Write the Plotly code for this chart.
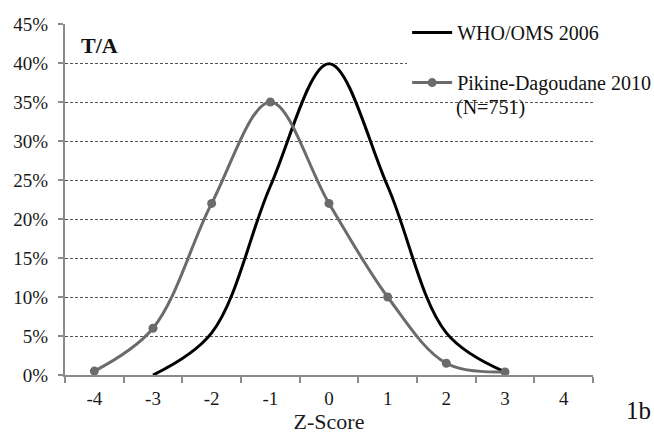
import plotly.graph_objects as go

z_who = [-3, -2, -1, 0, 1, 2, 3]
who = [0.0, 5.4, 24.2, 39.9, 24.2, 5.4, 0.4]
z_pik = [-4, -3, -2, -1, 0, 1, 2, 3]
pik = [0.5, 6.0, 22.0, 35.0, 22.0, 10.0, 1.5, 0.4]
x_ticks = [-4, -3, -2, -1, 0, 1, 2, 3, 4]
y_ticks = [0, 5, 10, 15, 20, 25, 30, 35, 40, 45]

FONT = "Liberation Serif"

fig = go.Figure()
fig.add_trace(go.Scatter(
    x=z_who, y=who, mode="lines", name="WHO/OMS 2006",
    line=dict(color="#000000", width=3, shape="spline", smoothing=1.0),
    legendgroup="a"))
fig.add_trace(go.Scatter(
    x=z_pik, y=pik, mode="lines+markers", name="Pikine-Dagoudane 2010",
    line=dict(color="#6b6b6b", width=3, shape="spline", smoothing=1.0),
    marker=dict(color="#6b6b6b", size=9),
    legendgroup="b"))

fig.update_layout(
    width=654, height=434,
    margin=dict(l=65, r=61, t=24, b=59, autoexpand=False),
    paper_bgcolor="white", plot_bgcolor="white",
    font=dict(family=FONT, color="#1a1a1a", size=19),
    showlegend=True,
    legend=dict(x=0.648, y=1.031, xanchor="left", yanchor="top",
                bgcolor="white", font=dict(family=FONT, size=20, color="#111"),
                traceorder="grouped", tracegroupgap=21, valign="middle",
                itemwidth=40),
    xaxis=dict(range=[-4.5, 4.5], tickvals=x_ticks, ticktext=[str(v) for v in x_ticks],
               ticks="", showgrid=False, zeroline=False, automargin=False,
               ticklabelstandoff=5,
               showline=True, linecolor="#8a8a8a", linewidth=2,
               tickfont=dict(family=FONT, size=19, color="#1a1a1a"),
               minor=dict(tick0=-4.5, dtick=1, ticks="outside", ticklen=6,
                          tickcolor="#8a8a8a", tickwidth=2, showgrid=False),
               title=dict(text="Z-Score", font=dict(family=FONT, size=22, color="#1a1a1a"), standoff=6)),
    yaxis=dict(range=[0, 45], tickvals=y_ticks, ticktext=[f"{v}%" for v in y_ticks],
               ticks="outside", ticklen=5, tickcolor="#8a8a8a", tickwidth=2,
               ticklabelstandoff=6, automargin=False,
               showgrid=True, gridcolor="#555555", gridwidth=1, griddash="3px,2px",
               zeroline=False, showline=True, linecolor="#8a8a8a", linewidth=2,
               tickfont=dict(family=FONT, size=19, color="#1a1a1a")),
    shapes=[
        dict(type="rect", xref="paper", yref="paper", x0=0.648, x1=1.0, y0=0.73, y1=1.0,
             fillcolor="white", line=dict(width=0), layer="between"),
    ],
    annotations=[
        dict(text="<b>T/A</b>", xref="paper", yref="paper", x=0.026, y=0.94,
             xanchor="left", yanchor="middle", showarrow=False,
             font=dict(family=FONT, size=22, color="#111")),
        dict(text="(N=751)", xref="paper", yref="paper", x=0.736, y=0.762,
             xanchor="left", yanchor="middle", showarrow=False,
             font=dict(family=FONT, size=20, color="#111")),
        dict(text="1b", xref="paper", yref="paper", x=1.058, y=-0.1,
             xanchor="left", yanchor="middle", showarrow=False,
             font=dict(family=FONT, size=25, color="#111")),
    ],
)

fig.write_html("out.html", config={"displayModeBar": False},
               post_script="document.body.style.margin='0';document.body.style.overflow='hidden';")
